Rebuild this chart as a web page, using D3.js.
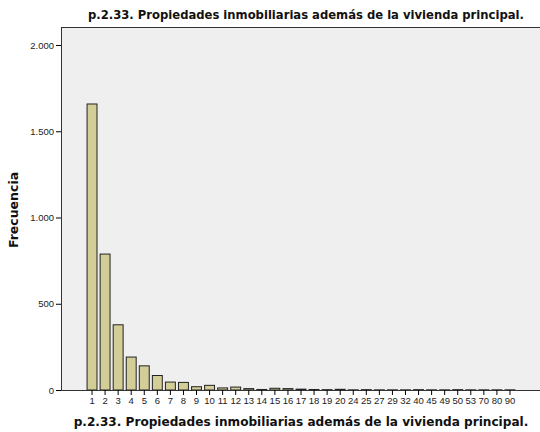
<!DOCTYPE html>
<html>
<head>
<meta charset="utf-8">
<script src="https://cdn.jsdelivr.net/npm/d3@7"></script>
<style>
  body { margin: 0; background: #fff; }
  svg { display: block; font-family: "DejaVu Sans", sans-serif; }
  .title { font-weight: bold; fill: #111; }
  .tick text { font-size: 9.5px; fill: #222; }
</style>
</head>
<body>
<div id="chart"></div>
<script>
// p.2.33 - number of properties besides the main home (frequency bar chart)
const categories = ["1","2","3","4","5","6","7","8","9","10","11","12","13","14","15","16","17",
                    "18","19","20","24","25","27","29","32","40","45","49","50","53","70","80","90"];
const counts = [1658, 788, 378, 191, 140, 84, 46, 44, 19, 27, 12, 17, 8, 3, 10, 8, 5,
                3, 2, 4, 1, 2, 1, 1, 1, 2, 1, 1, 2, 1, 1, 1, 1];
const yTicks = [0, 500, 1000, 1500, 2000];

const W = 540, H = 432;
const plot = { left: 61, right: 540, top: 27, bottom: 390 };
const titleText = "p.2.33. Propiedades inmobiliarias además de la vivienda principal.";

const data = categories.map((c, i) => ({ cat: c, n: counts[i] }));
const fmt = d3.formatLocale({ decimal: ",", thousands: ".", grouping: [3], currency: ["", "€"] }).format(",d");

const svg = d3.select("#chart").append("svg").attr("width", W).attr("height", H);

// plot background
svg.append("rect").attr("x", plot.left).attr("y", plot.top)
   .attr("width", plot.right - plot.left).attr("height", plot.bottom - plot.top)
   .attr("fill", "#efefef");
svg.append("line").attr("x1", plot.left).attr("x2", plot.right)
   .attr("y1", plot.top + 0.5).attr("y2", plot.top + 0.5).attr("stroke", "#333").attr("stroke-width", 1.2);

// scales: first bar centred ~31px right of the axis, one slot every ~13px
const x = d3.scaleBand().domain(categories).range([85.5, 516.5]).paddingInner(0.24).paddingOuter(0.12);
const y = d3.scaleLinear().domain([0, 2000]).range([plot.bottom, 45]);

svg.append("g").selectAll("rect").data(data).join("rect")
   .attr("x", d => x(d.cat)).attr("width", x.bandwidth())
   .attr("y", d => y(d.n)).attr("height", d => plot.bottom - y(d.n))
   .attr("fill", "#d3ce98").attr("stroke", "#222").attr("stroke-width", 1);

// axes
const yAxis = svg.append("g").attr("transform", `translate(${plot.left},0)`)
   .call(d3.axisLeft(y).tickValues(yTicks).tickFormat(fmt).tickSize(5).tickPadding(2));
yAxis.select(".domain").attr("d", `M0.5,${plot.top}V${plot.bottom}`).attr("stroke", "#333");

const xAxis = svg.append("g").attr("transform", `translate(0,${plot.bottom})`)
   .call(d3.axisBottom(x).tickSize(5).tickPadding(2));
xAxis.select(".domain").attr("d", `M${plot.left},0.5H${plot.right}`).attr("stroke", "#333");
xAxis.selectAll(".tick text").attr("dy", "0.72em");

// titles
svg.append("text").attr("class", "title").attr("x", 306).attr("y", 19)
   .attr("font-size", 11.6).attr("text-anchor", "middle").text(titleText);
svg.append("text").attr("class", "title").attr("x", 301).attr("y", 426)
   .attr("font-size", 12.1).attr("text-anchor", "middle").text(titleText);
svg.append("text").attr("class", "title").attr("font-size", 12.5)
   .attr("transform", "translate(18,210) rotate(-90)")
   .attr("text-anchor", "middle").text("Frecuencia");
</script>
</body>
</html>
